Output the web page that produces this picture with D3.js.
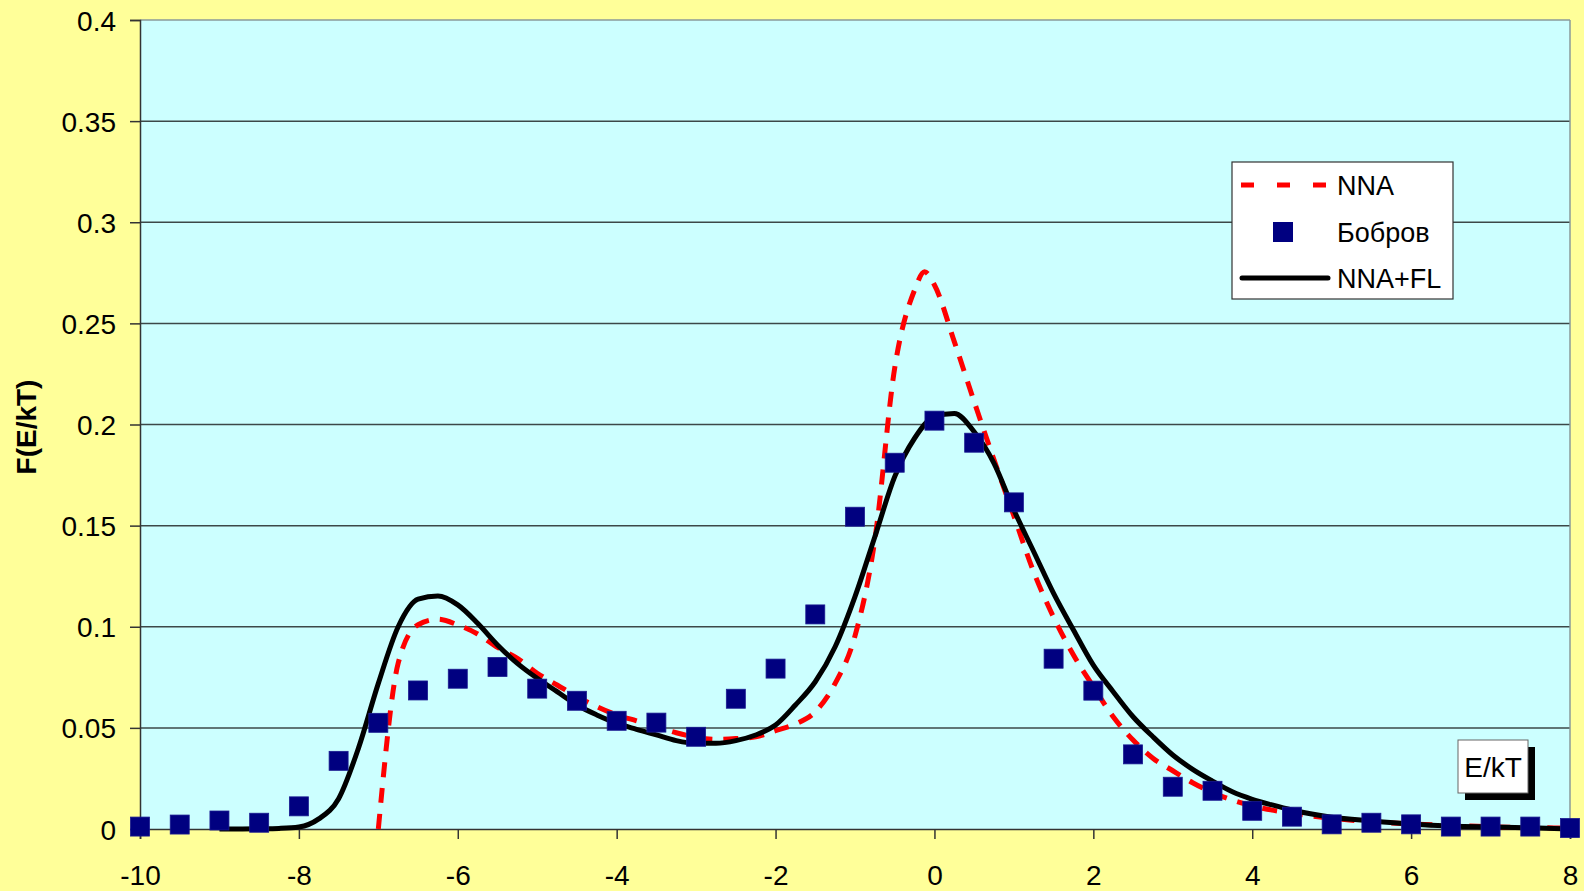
<!DOCTYPE html>
<html>
<head>
<meta charset="utf-8">
<script src="https://cdn.jsdelivr.net/npm/d3@7"></script>
<style>
  html, body { margin: 0; padding: 0; background: #FFFF99; }
  svg { display: block; }
  text { font-family: "Liberation Sans", Arial, sans-serif; fill: #000; }
</style>
</head>
<body>
<svg id="chart" width="1584" height="891"></svg>
<script>
// ---- Data ----
const xTickValues = [-10, -8, -6, -4, -2, 0, 2, 4, 6, 8];
const xTickLabels = ["-10", "-8", "-6", "-4", "-2", "0", "2", "4", "6", "8"];
const yTickValues = [0, 0.05, 0.1, 0.15, 0.2, 0.25, 0.3, 0.35, 0.4];
const yTickLabels = ["0", "0.05", "0.1", "0.15", "0.2", "0.25", "0.3", "0.35", "0.4"];

const seriesNames = ["NNA", "Бобров", "NNA+FL"];

// Бобров (squares)
const bobrovE = [-10, -9.5, -9, -8.5, -8, -7.5, -7, -6.5, -6, -5.5, -5, -4.5, -4, -3.5, -3, -2.5, -2, -1.5, -1, -0.5,
  0, 0.5, 1, 1.5, 2, 2.5, 3, 3.5, 4, 4.5, 5, 5.5, 6, 6.5, 7, 7.5, 8];
const bobrovF = [0.0012, 0.0022, 0.0042, 0.0031, 0.0112, 0.0337, 0.0525, 0.0685, 0.0743, 0.0801, 0.0694, 0.0634,
  0.0535, 0.0526, 0.0456, 0.0644, 0.0793, 0.1061, 0.1544, 0.1811, 0.2019, 0.1910, 0.1615, 0.0842, 0.0684, 0.0369,
  0.0209, 0.0189, 0.0090, 0.0061, 0.0023, 0.0031, 0.0023, 0.0012, 0.0012, 0.0012, 0.0005];

// NNA (red dashed)
const nnaE = [-7, -6.75, -6.5, -6.25, -6, -5.75, -5.5, -5.25, -5, -4.75, -4.5, -4.25, -4, -3.75, -3.5, -3.25, -3,
  -2.75, -2.5, -2.25, -2, -1.75, -1.5, -1.25, -1, -0.75, -0.5, -0.25, -0.125, 0, 0.25, 0.5, 0.75, 1, 1.25, 1.5,
  1.75, 2, 2.25, 2.5, 2.75, 3, 3.25, 3.5, 3.75, 4, 4.5, 5, 5.5, 6, 6.5, 7, 7.5, 8];
const nnaF = [0, 0.082, 0.101, 0.1037, 0.1009, 0.0964, 0.0898, 0.0844, 0.077, 0.0712, 0.0654, 0.0605, 0.0564,
  0.0535, 0.0506, 0.0476, 0.0453, 0.0443, 0.0447, 0.0456, 0.0486, 0.0519, 0.058, 0.072, 0.0955, 0.143, 0.228,
  0.2665, 0.2755, 0.269, 0.241, 0.2113, 0.1825, 0.1548, 0.127, 0.1047, 0.086, 0.0704, 0.0555, 0.044, 0.035,
  0.0288, 0.0229, 0.018, 0.0143, 0.0114, 0.0078, 0.0053, 0.0035, 0.0025, 0.0018, 0.0011, 0.0007, 0.0004];

// NNA+FL (black solid)
const flE = [-9, -8.75, -8.5, -8.25, -8, -7.75, -7.5, -7.25, -7, -6.75, -6.5, -6.25, -6, -5.75, -5.5, -5.25, -5,
  -4.75, -4.5, -4.25, -4, -3.75, -3.5, -3.25, -3, -2.75, -2.5, -2.25, -2, -1.75, -1.5, -1.25, -1, -0.75, -0.5,
  -0.25, 0, 0.25, 0.5, 0.75, 1, 1.25, 1.5, 1.75, 2, 2.25, 2.5, 2.75, 3, 3.25, 3.5, 3.75, 4, 4.25, 4.5, 4.75, 5,
  5.5, 6, 6.5, 7, 7.5, 8];
const flF = [0, 0, 0.0001, 0.0003, 0.001, 0.005, 0.015, 0.04, 0.072, 0.1, 0.1136, 0.1152, 0.1108, 0.1017, 0.091,
  0.0819, 0.0745, 0.0679, 0.0613, 0.0564, 0.0523, 0.0493, 0.0465, 0.0437, 0.0424, 0.0424, 0.0437, 0.0465, 0.0514,
  0.0613, 0.0728, 0.0901, 0.1149, 0.1445, 0.1742, 0.1932, 0.2039, 0.2055, 0.1964, 0.1808, 0.1577, 0.1371, 0.1165,
  0.0984, 0.081, 0.0679, 0.0555, 0.0456, 0.0366, 0.0295, 0.0237, 0.0184, 0.0147, 0.0119, 0.0094, 0.0074, 0.0058,
  0.004, 0.0025, 0.0015, 0.001, 0.0006, 0];

const xAxisTitle = "E/kT";
const yAxisTitle = "F(E/kT)";

// ---- Layout ----
const svg = d3.select("#chart");
const W = 1584, H = 891;
const plot = { left: 140, right: 1570, top: 20, bottom: 829 };

const x = d3.scaleLinear().domain([-10, 8]).range([plot.left, plot.right]);
const y = d3.scaleLinear().domain([0, 0.4]).range([plot.bottom, plot.top]);

svg.append("rect").attr("x", 0).attr("y", 0).attr("width", W).attr("height", H).attr("fill", "#FFFF99");
svg.append("rect")
  .attr("x", plot.left).attr("y", plot.top)
  .attr("width", plot.right - plot.left).attr("height", plot.bottom - plot.top)
  .attr("fill", "#CCFFFF");

// gridlines
svg.append("g").selectAll("line")
  .data(yTickValues.filter(v => v > 0 && v < 0.4))
  .join("line")
  .attr("x1", plot.left).attr("x2", plot.right)
  .attr("y1", d => y(d)).attr("y2", d => y(d))
  .attr("stroke", "#3c4848").attr("stroke-width", 1.5);

// plot border (top, right)
svg.append("line").attr("x1", plot.left).attr("x2", plot.right).attr("y1", plot.top).attr("y2", plot.top)
  .attr("stroke", "#8a9a9a").attr("stroke-width", 1.5);
svg.append("line").attr("x1", plot.right).attr("x2", plot.right).attr("y1", plot.top).attr("y2", plot.bottom)
  .attr("stroke", "#8a9a9a").attr("stroke-width", 1.5);

// axes
const yAxis = d3.axisLeft(y).tickValues(yTickValues)
  .tickFormat((d, i) => yTickLabels[i]).tickSize(10).tickPadding(14);
const gy = svg.append("g").attr("transform", `translate(${plot.left},0)`).call(yAxis);
gy.select(".domain").attr("stroke", "#333").attr("stroke-width", 1.5);
gy.selectAll(".tick line").attr("stroke", "#333").attr("stroke-width", 1.5);
gy.selectAll(".tick text").attr("font-size", 28).attr("font-family", "Liberation Sans, Arial, sans-serif")
  .attr("fill", "#000").attr("dy", "0.36em");

const xAxis = d3.axisBottom(x).tickValues(xTickValues)
  .tickFormat((d, i) => xTickLabels[i]).tickSize(10).tickPadding(26);
const gx = svg.append("g").attr("transform", `translate(0,${plot.bottom})`).call(xAxis);
gx.select(".domain").attr("stroke", "#333").attr("stroke-width", 1.5);
gx.selectAll(".tick line").attr("stroke", "#333").attr("stroke-width", 1.5);
gx.selectAll(".tick text").attr("font-size", 28).attr("font-family", "Liberation Sans, Arial, sans-serif")
  .attr("fill", "#000").attr("dy", "0.71em");

// lines
const nnaData = nnaE.map((e, i) => [e, nnaF[i]]);
const flData = flE.map((e, i) => [e, flF[i]]);
const bobData = bobrovE.map((e, i) => [e, bobrovF[i]]);

const line = d3.line().x(d => x(d[0])).y(d => y(d[1])).curve(d3.curveMonotoneX);

svg.append("path").datum(nnaData).attr("d", line)
  .attr("fill", "none").attr("stroke", "#FF0000").attr("stroke-width", 5)
  .attr("stroke-dasharray", "15,11");

svg.append("path").datum(flData).attr("d", line)
  .attr("fill", "none").attr("stroke", "#000").attr("stroke-width", 5)
  .attr("stroke-linejoin", "round");

const sq = 19;
svg.append("g").selectAll("rect").data(bobData).join("rect")
  .attr("x", d => x(d[0]) - sq / 2).attr("y", d => y(d[1]) - sq / 2)
  .attr("width", sq).attr("height", sq)
  .attr("fill", "#000080").attr("stroke", "#1a1a90").attr("stroke-width", 0.8);

// legend
const lg = svg.append("g");
lg.append("rect").attr("x", 1232).attr("y", 162).attr("width", 221).attr("height", 137)
  .attr("fill", "#fff").attr("stroke", "#333").attr("stroke-width", 1.2);
const rows = [185, 232, 278];
lg.append("line").attr("x1", 1241).attr("x2", 1328).attr("y1", rows[0]).attr("y2", rows[0])
  .attr("stroke", "#FF0000").attr("stroke-width", 5).attr("stroke-dasharray", "13,23");
lg.append("rect").attr("x", 1283 - 10).attr("y", rows[1] - 10).attr("width", 20).attr("height", 20)
  .attr("fill", "#000080");
lg.append("line").attr("x1", 1242).attr("x2", 1328).attr("y1", rows[2]).attr("y2", rows[2])
  .attr("stroke", "#000").attr("stroke-width", 5).attr("stroke-linecap", "round");
lg.selectAll("text.lbl").data(seriesNames).join("text").attr("class", "lbl")
  .attr("x", 1337).attr("y", (d, i) => rows[i] + 10)
  .attr("font-size", 27).text(d => d);

// x axis title box
const bx = 1458, by = 740, bw = 70, bh = 53;
svg.append("rect").attr("x", bx + 7).attr("y", by + 7).attr("width", bw).attr("height", bh).attr("fill", "#000");
svg.append("rect").attr("x", bx).attr("y", by).attr("width", bw).attr("height", bh)
  .attr("fill", "#fff").attr("stroke", "#666").attr("stroke-width", 1);
svg.append("text").attr("x", bx + bw / 2).attr("y", by + 37).attr("text-anchor", "middle")
  .attr("font-size", 28).text(xAxisTitle);

// y axis title
svg.append("text").attr("transform", "translate(36,427) rotate(-90)")
  .attr("text-anchor", "middle").attr("font-size", 28).attr("font-weight", "bold")
  .text(yAxisTitle);
</script>
</body>
</html>
